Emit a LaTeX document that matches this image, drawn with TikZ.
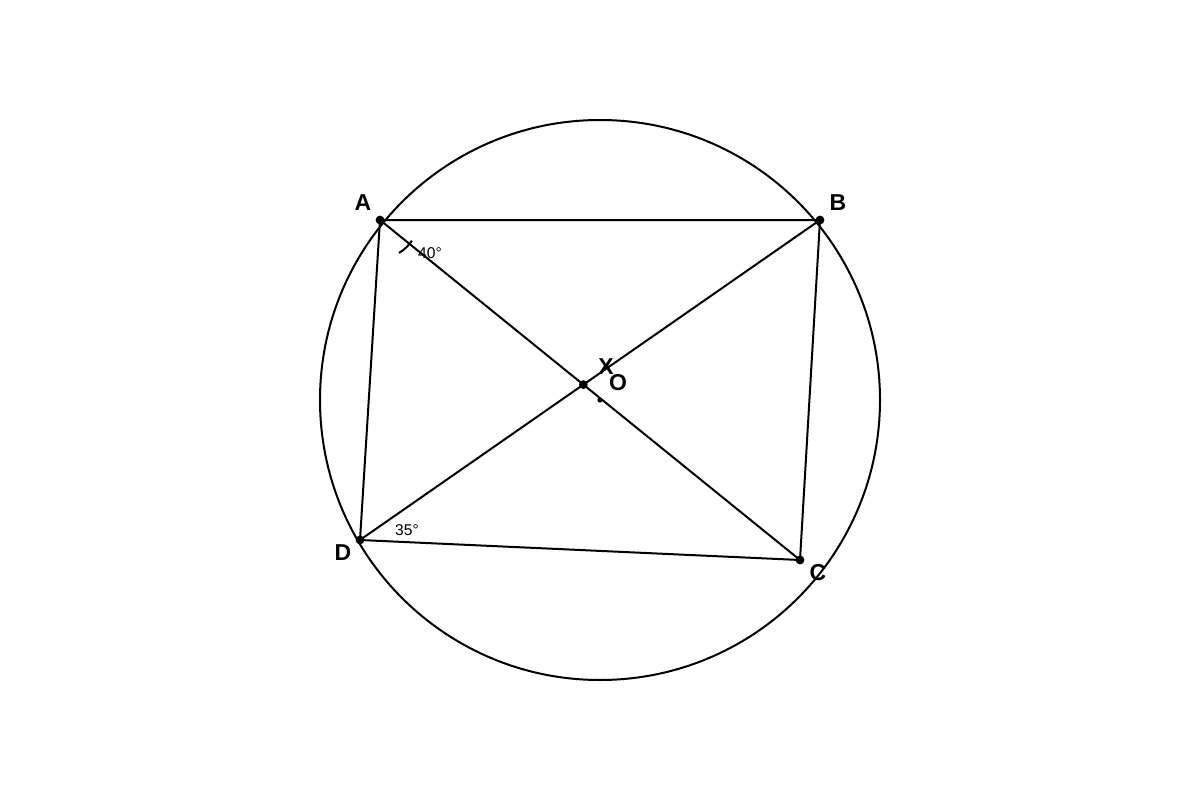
\documentclass[tikz,border=0pt]{standalone}
\usepackage{fontspec}
\setsansfont{Liberation Sans}
\usepackage{tikz}
\usetikzlibrary{calc}

\begin{document}
\begin{tikzpicture}[
    x=0.5pt, y=0.5pt,
    line/.style={line width=1pt, black},
    vertex/.style={circle, fill=black, inner sep=0pt, minimum size=4.4pt},
    centre/.style={circle, fill=black, inner sep=0pt, minimum size=2.6pt},
    lbl/.style={font=\sffamily\bfseries\fontsize{11.5}{13}\selectfont},
    ang/.style={font=\sffamily\fontsize{7.8}{9}\selectfont}
]
    \useasboundingbox (0,0) rectangle (1200,800);

    % Points on the circle
    \coordinate (O) at (600,400);
    \coordinate (A) at (380,580);
    \coordinate (B) at (820,580);
    \coordinate (C) at (800,240);
    \coordinate (D) at (360,260);
    \coordinate (X) at (intersection of A--C and B--D);

    % Circle
    \draw[line] (O) circle[radius=140pt];

    % Quadrilateral and diagonals
    \draw[line] (A) -- (B) -- (C) -- (D) -- cycle;
    \draw[line] (A) -- (C);
    \draw[line] (B) -- (D);

    % Angle mark at A
    \draw[line] ([shift={(-33:19pt)}]A) arc[start angle=-33, end angle=-60, radius=19pt];

    % Dots
    \foreach \p in {A,B,C,D,X}
        \node[vertex] at (\p) {};
    \node[centre] at (O) {};

    % Labels
    \node[lbl] (lA) at (363,597) {A};
    \node[lbl] (lB) at (838,597) {B};
    \node[lbl] (lC) at (818,227) {C};
    \node[lbl] (lD) at (343,247) {D};
    \node[lbl] (lX) at (606,433) {X};
    \node[lbl] (lO) at (618,417) {O};

    % Angle labels
    \node[ang] (a40) at (430,547) {40°};
    \node[ang] (a35) at (407,270) {35°};
\end{tikzpicture}
\end{document}
